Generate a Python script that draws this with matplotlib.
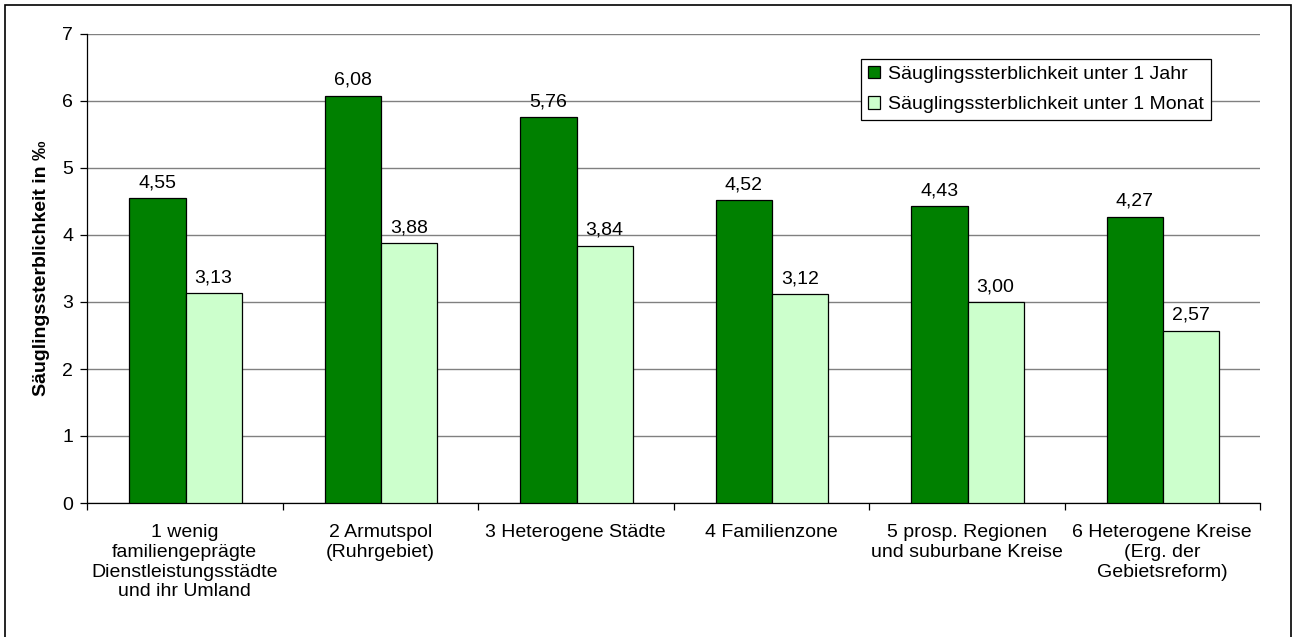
import matplotlib.pyplot as plt
from matplotlib.patches import Rectangle
import numpy as np

plt.rcParams['font.family'] = ['Liberation Sans', 'DejaVu Sans']

regions = ['1 wenig\nfamiliengeprägte\nDienstleistungsstädte\nund ihr Umland',
           '2 Armutspol\n(Ruhrgebiet)',
           '3 Heterogene Städte',
           '4 Familienzone',
           '5 prosp. Regionen\nund suburbane Kreise',
           '6 Heterogene Kreise\n(Erg. der\nGebietsreform)']
unter_1_jahr = [4.55, 6.08, 5.76, 4.52, 4.43, 4.27]
unter_1_monat = [3.13, 3.88, 3.84, 3.12, 3.00, 2.57]

fig = plt.figure(figsize=(12.95, 6.37), dpi=100)
ax = fig.add_axes([87/1295, 134/637, 1173/1295, 469/637])

x = np.arange(len(regions))
w = 0.287
b1 = ax.bar(x - w/2 + 0.004, unter_1_jahr, w, color='#008000', edgecolor='black',
            linewidth=0.9, label='Säuglingssterblichkeit unter 1 Jahr', zorder=3)
b2 = ax.bar(x + w/2 + 0.004, unter_1_monat, w, color='#CCFFCC', edgecolor='black',
            linewidth=0.9, label='Säuglingssterblichkeit unter 1 Monat', zorder=3)

for bars in (b1, b2):
    for r in bars:
        v = r.get_height()
        ax.annotate(f'{v:.2f}'.replace('.', ','), (r.get_x() + r.get_width()/2, v),
                    xytext=(0, 5), textcoords='offset points', ha='center', va='bottom',
                    fontsize=14)

ax.set_xlim(-0.5, 5.5)
ax.set_ylim(0, 7)
ax.set_yticks(range(8))
ax.yaxis.grid(True, color='#808080', linewidth=1.0, zorder=0)
ax.tick_params(axis='y', labelsize=14, length=5, width=0.9, pad=5)

ax.set_xticks(x)
ax.set_xticklabels(regions, fontsize=14, linespacing=1.22)
ax.tick_params(axis='x', length=0, pad=15)
ax.set_xticks(np.arange(-0.5, 6, 1), minor=True)
ax.tick_params(axis='x', which='minor', length=5, width=0.9)

for s in ('top', 'right'):
    ax.spines[s].set_visible(False)
ax.spines['left'].set_linewidth(0.9)
ax.spines['bottom'].set_linewidth(0.9)

ax.set_ylabel('Säuglingssterblichkeit in ‰', fontsize=14, fontweight='bold', labelpad=9)

leg = ax.legend(loc='upper right', bbox_to_anchor=(1211/1173 - 87/1173, 1 - 25/469),
                fontsize=14, frameon=True, fancybox=False, edgecolor='black',
                framealpha=1, handlelength=0.6, handleheight=0.6, handletextpad=0.45,
                borderpad=0.35, borderaxespad=0, labelspacing=0.7)
leg.get_frame().set_linewidth(0.9)

# frame around the whole chart
fig.patches.append(Rectangle((5/1295, -0.01), 1286/1295, 1 - 5/637 + 0.01,
                             transform=fig.transFigure, fill=False,
                             edgecolor='black', linewidth=1.2))

fig.savefig('out.png', dpi=100)
